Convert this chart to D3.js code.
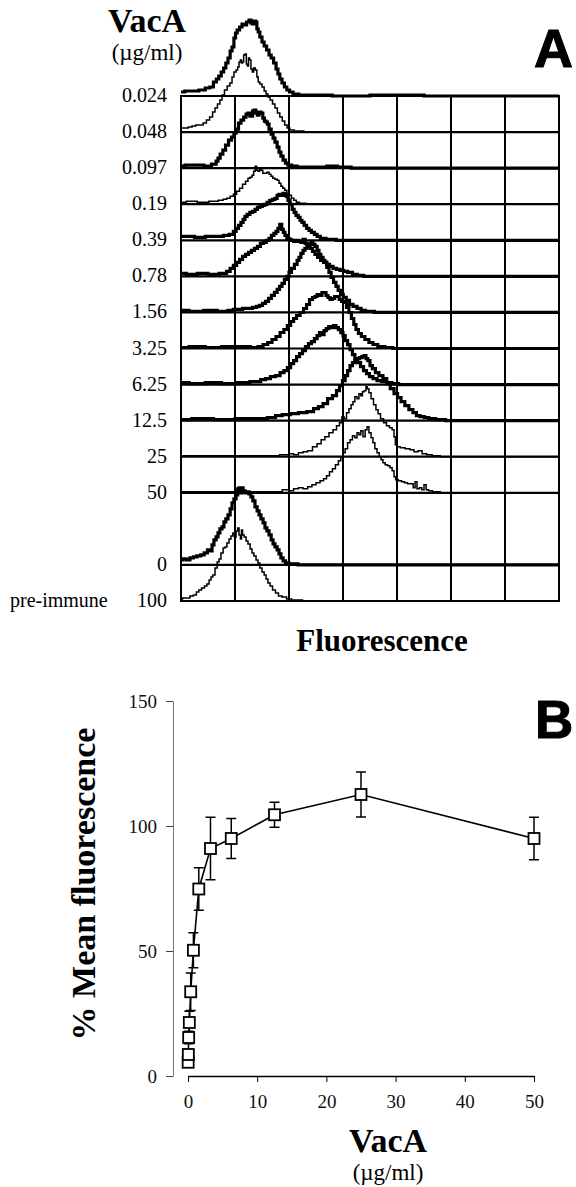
<!DOCTYPE html>
<html>
<head>
<meta charset="utf-8">
<script src="https://cdn.jsdelivr.net/npm/d3@7"></script>
<style>
  body { margin: 0; background: #fff; }
  svg { display: block; }
</style>
</head>
<body>
<div id="chart"></div>
<script>
// panel A: rows of the overlay (label, slot in the grid)
var rowLabels = ["0.024", "0.048", "0.097", "0.19", "0.39", "0.78", "1.56", "3.25", "6.25", "12.5", "25", "50", "0", "100"];
var rowSlots = [0, 1, 2, 3, 4, 5, 6, 7, 8, 9, 10, 11, 13, 14];
var gridChannels = [0, 100, 200, 300, 400, 500, 600, 700];

// histograms: [fluorescence channel, counts]
var h0024 = [[0,4],[14,5],[26,5],[40,6],[50,8],[57,9],[63,14],[68,17],[72,20],[77,24],[81,28],[85,33],[89,38],[93,45],[96,49],[100,58],[102,63],[106,66],[111,69],[115,72],[119,71],[124,74],[128,76],[131,73],[133,72],[137,75],[139,74],[142,67],[144,64],[148,59],[152,54],[156,50],[161,46],[165,41],[169,38],[174,33],[178,27],[181,22],[185,17],[189,13],[194,9],[198,6],[204,4],[211,2],[225,1],[260,1],[300,0],[400,1],[500,0],[700,0]];
var h0048 = [[0,4],[10,4],[17,5],[24,6],[31,7],[38,7],[44,9],[50,12],[56,15],[61,20],[65,24],[70,28],[74,32],[78,37],[83,42],[88,46],[93,49],[96,55],[100,60],[104,62],[106,65],[109,70],[111,72],[113,69],[115,70],[117,77],[120,78],[122,68],[124,66],[126,74],[128,72],[131,63],[133,60],[136,64],[139,62],[142,55],[144,50],[148,48],[152,45],[156,41],[159,38],[163,35],[167,32],[172,28],[176,24],[181,19],[185,15],[190,11],[194,7],[199,4],[204,2],[215,1],[240,0],[700,0]];
var h0097 = [[0,2],[15,3],[35,3],[50,2],[63,4],[67,7],[70,10],[75,14],[80,18],[85,23],[91,28],[96,31],[100,35],[104,39],[109,45],[113,48],[119,51],[122,54],[126,55],[129,52],[131,52],[134,57],[137,58],[140,55],[143,53],[146,56],[150,55],[153,50],[156,47],[159,46],[161,44],[165,39],[169,34],[172,30],[176,26],[180,21],[183,16],[187,12],[191,8],[196,5],[200,3],[210,2],[220,1],[260,1],[280,2],[300,1],[330,0],[700,0]];
var h019 = [[0,2],[20,3],[40,2],[63,3],[75,4],[81,5],[88,6],[94,8],[100,10],[106,13],[111,16],[117,20],[122,23],[126,26],[130,27],[133,29],[136,33],[139,38],[141,34],[144,33],[147,35],[150,34],[153,31],[157,31],[161,32],[165,30],[168,28],[172,26],[176,25],[180,24],[183,21],[187,18],[190,16],[194,14],[198,11],[202,9],[207,6],[211,4],[216,2],[222,1],[240,0],[700,0]];
var h039 = [[0,4],[15,4],[35,3],[55,4],[72,4],[85,5],[94,6],[100,9],[104,12],[109,15],[113,18],[117,21],[120,24],[125,26],[130,28],[135,29],[139,31],[144,33],[148,34],[153,35],[157,36],[162,38],[167,40],[172,41],[176,42],[180,45],[183,46],[187,45],[191,47],[194,45],[196,44],[200,40],[204,36],[208,31],[211,28],[215,25],[219,23],[222,20],[226,18],[230,15],[235,12],[239,10],[244,8],[250,6],[254,4],[262,2],[275,1],[300,0],[700,0]];
var h078 = [[0,3],[20,2],[40,3],[60,2],[81,3],[88,5],[94,8],[100,11],[106,14],[111,17],[117,20],[122,22],[128,24],[133,26],[139,28],[144,30],[150,33],[155,34],[161,36],[165,38],[170,41],[174,43],[178,45],[181,48],[185,52],[188,47],[191,44],[194,41],[198,38],[202,37],[206,36],[211,35],[215,36],[220,35],[224,34],[228,37],[232,33],[237,30],[241,28],[246,25],[250,22],[256,19],[261,16],[267,14],[272,12],[278,10],[285,8],[291,7],[298,6],[304,5],[313,4],[322,2],[331,1],[346,0],[700,0]];
var h156 = [[0,2],[30,1],[54,2],[80,1],[94,2],[100,3],[109,3],[119,4],[128,4],[137,5],[143,6],[148,7],[154,9],[159,11],[165,14],[170,17],[176,20],[180,23],[185,26],[189,29],[194,33],[198,36],[202,40],[207,44],[213,48],[217,52],[220,55],[224,59],[228,62],[231,64],[235,66],[239,68],[243,70],[246,68],[250,66],[254,62],[257,58],[261,55],[265,52],[268,50],[272,45],[276,40],[280,35],[285,30],[289,26],[293,22],[298,18],[303,15],[309,12],[315,8],[322,6],[330,4],[337,2],[346,1],[370,0],[700,0]];
var h325 = [[0,1],[30,2],[60,1],[90,2],[120,2],[137,1],[148,2],[156,4],[165,6],[172,9],[180,12],[187,16],[194,19],[200,23],[206,27],[211,30],[217,33],[224,36],[230,40],[235,44],[241,49],[246,51],[250,52],[254,54],[259,53],[263,56],[267,56],[270,53],[274,51],[278,49],[282,50],[287,52],[291,52],[295,49],[300,47],[304,46],[309,41],[313,36],[318,30],[322,24],[326,19],[331,15],[337,12],[344,9],[352,6],[359,4],[370,2],[385,1],[400,0],[700,0]];
var h625 = [[0,2],[30,1],[60,2],[90,1],[120,2],[135,3],[143,3],[152,5],[161,6],[170,8],[180,9],[187,12],[194,14],[200,17],[206,21],[211,24],[217,28],[222,31],[228,34],[233,38],[239,41],[244,43],[250,46],[254,49],[259,52],[263,50],[267,54],[271,56],[276,58],[280,57],[285,59],[289,57],[294,55],[298,52],[302,49],[306,44],[311,40],[315,35],[320,30],[324,26],[330,22],[335,18],[341,14],[346,11],[352,8],[359,6],[367,4],[376,3],[385,2],[396,1],[410,0],[700,0]];
var h125 = [[0,1],[40,2],[80,1],[120,2],[150,2],[170,3],[180,5],[195,6],[210,7],[225,8],[241,9],[250,12],[259,14],[267,17],[276,22],[285,25],[291,30],[296,35],[302,40],[306,45],[311,50],[315,55],[320,58],[324,60],[328,62],[333,63],[337,64],[341,65],[344,62],[348,60],[352,55],[357,52],[363,48],[370,45],[378,42],[384,37],[391,32],[398,27],[404,23],[411,19],[418,15],[426,11],[433,8],[439,5],[446,4],[455,3],[463,2],[480,1],[500,0],[700,0]];
var h25 = [[0,1],[60,1],[120,1],[170,1],[195,2],[204,3],[213,2],[222,4],[230,5],[239,6],[248,10],[256,13],[263,17],[270,20],[278,24],[285,27],[291,31],[296,34],[300,40],[304,38],[309,44],[313,48],[317,52],[320,55],[324,60],[328,58],[331,63],[335,61],[337,65],[341,66],[344,70],[346,68],[350,64],[354,58],[359,52],[363,47],[367,43],[372,38],[378,34],[383,31],[389,29],[393,27],[396,20],[398,12],[402,10],[410,9],[420,8],[428,7],[435,5],[443,6],[450,3],[460,2],[470,1],[490,0],[700,0]];
var h50 = [[0,1],[60,1],[120,1],[180,1],[195,3],[204,2],[213,4],[222,5],[230,4],[239,6],[246,8],[254,10],[261,12],[267,14],[272,17],[278,21],[283,24],[289,28],[294,32],[298,36],[302,40],[306,44],[311,50],[315,53],[320,57],[324,55],[328,60],[331,58],[335,62],[339,56],[343,63],[346,66],[350,60],[354,55],[357,50],[361,44],[365,40],[369,36],[372,33],[376,30],[380,28],[385,27],[389,25],[393,22],[396,16],[399,13],[406,12],[411,11],[417,10],[422,9],[428,9],[432,5],[435,11],[439,4],[444,5],[448,3],[452,8],[456,3],[461,2],[470,1],[490,0],[700,0]];
var h0 = [[0,5],[6,6],[13,5],[20,7],[26,8],[33,9],[40,10],[46,12],[52,15],[56,14],[59,20],[63,25],[67,28],[70,32],[74,36],[78,38],[81,43],[85,46],[89,50],[93,56],[96,62],[100,66],[104,70],[106,76],[109,77],[111,72],[113,77],[117,74],[120,72],[124,73],[128,71],[131,68],[135,64],[139,58],[143,54],[146,50],[150,46],[154,42],[157,37],[161,34],[165,30],[169,25],[172,21],[176,18],[180,15],[183,11],[187,7],[191,4],[196,2],[204,1],[230,0],[700,0]];
var h100 = [[0,2],[6,3],[13,3],[20,5],[26,6],[31,9],[35,11],[41,13],[46,15],[50,17],[54,21],[57,24],[61,26],[65,33],[69,39],[72,42],[76,48],[80,53],[83,54],[87,58],[91,62],[94,65],[98,68],[100,64],[104,70],[106,73],[109,66],[111,62],[113,71],[115,66],[119,64],[122,60],[126,57],[130,52],[133,48],[137,45],[141,41],[144,38],[148,33],[152,29],[156,26],[159,22],[163,18],[167,15],[172,11],[178,8],[183,5],[191,4],[200,2],[210,1],[240,0],[700,0]];
var histograms = [h0024, h0048, h0097, h019, h039, h078, h156, h325, h625, h125, h25, h50, h0, h100];

// panel B: dose response
var vacA = [0.024, 0.048, 0.097, 0.19, 0.39, 0.78, 1.56, 3.25, 6.25, 12.5, 25, 50];
var meanFluor = [5.5, 8.6, 15.4, 21.4, 33.7, 50.3, 74.8, 91, 95, 104.5, 112.6, 95];
var errFluor = [2, 2, 2.5, 4.5, 7.5, 7, 8.5, 12.5, 8, 5, 9, 8.5];
var yTicksB = [0, 50, 100, 150];
var xTicksB = [0, 10, 20, 30, 40, 50];

// style: which overlay traces are the heavy ones
var heavyTraces = ["0.024", "0.097", "0.39", "0.78", "1.56", "3.25", "6.25", "12.5", "0"];

var W = 576, H = 1187;
var serif = "'Liberation Serif', 'Times New Roman', serif";
var sans = "'Liberation Sans', Arial, sans-serif";

var svg = d3.select("#chart").append("svg")
    .attr("width", W)
    .attr("height", H);
svg.append("rect").attr("width", W).attr("height", H).attr("fill", "#fff");

// ---------- panel A ----------
var xA = d3.scaleLinear().domain([0, 700]).range([181, 559]);
var rowY = d3.scaleLinear().domain([0, 14]).range([96, 601]);
var countPx = d3.scaleLinear().domain([0, 100]).range([0, 100]);

var gA = svg.append("g");

gA.selectAll(".vgrid")
    .data(gridChannels)
  .enter().append("line")
    .attr("x1", function(d) { return xA(d); })
    .attr("x2", function(d) { return xA(d); })
    .attr("y1", rowY(0) - 1)
    .attr("y2", rowY(14) + 1)
    .attr("stroke", "#000")
    .attr("stroke-width", 2);

gA.selectAll(".hgrid")
    .data(rowSlots)
  .enter().append("line")
    .attr("x1", xA(0))
    .attr("x2", xA(700))
    .attr("y1", function(d) { return rowY(d); })
    .attr("y2", function(d) { return rowY(d); })
    .attr("stroke", "#000")
    .attr("stroke-width", 2.2);

histograms.forEach(function(hist, i) {
  var base = rowY(rowSlots[i]);
  var heavy = heavyTraces.indexOf(rowLabels[i]) >= 0;
  var line = d3.line()
      .curve(d3.curveStep)
      .x(function(d) { return xA(d[0]); })
      .y(function(d) { return base - countPx(d[1]); });
  gA.append("path")
      .datum(hist)
      .attr("d", line)
      .attr("fill", "none")
      .attr("stroke", "#000")
      .attr("stroke-width", heavy ? 3.2 : 1.5)
      .attr("stroke-linejoin", "miter");
});

gA.selectAll(".rowlab")
    .data(rowLabels)
  .enter().append("text")
    .attr("x", 167)
    .attr("y", function(d, i) { return rowY(rowSlots[i]) + 6; })
    .attr("text-anchor", "end")
    .attr("font-family", serif)
    .attr("font-size", 20)
    .text(function(d) { return d; });

gA.append("text")
    .attr("x", 10).attr("y", rowY(14) + 6)
    .attr("font-family", serif).attr("font-size", 20)
    .text("pre-immune");

gA.append("text")
    .attr("x", 147).attr("y", 32)
    .attr("text-anchor", "middle")
    .attr("font-family", serif).attr("font-weight", "bold").attr("font-size", 34)
    .text("VacA");
gA.append("text")
    .attr("x", 147).attr("y", 60)
    .attr("text-anchor", "middle")
    .attr("font-family", serif).attr("font-size", 23)
    .text("(µg/ml)");

gA.append("text")
    .attr("x", 382).attr("y", 651)
    .attr("text-anchor", "middle")
    .attr("font-family", serif).attr("font-weight", "bold").attr("font-size", 31)
    .text("Fluorescence");

gA.append("text")
    .attr("x", 534).attr("y", 67)
    .attr("font-family", sans).attr("font-weight", "bold").attr("font-size", 54)
    .attr("stroke", "#000").attr("stroke-width", 1)
    .text("A");

// ---------- panel B ----------
var xB = d3.scaleLinear().domain([0, 50]).range([188, 534]);
var yB = d3.scaleLinear().domain([0, 150]).range([1076, 701]);

var gB = svg.append("g");

var yAxis = gB.append("g")
    .attr("transform", "translate(173,0)")
    .call(d3.axisLeft(yB).tickValues(yTicksB).tickSize(7).tickSizeOuter(0).tickPadding(9));
yAxis.select(".domain").attr("stroke", "#777").attr("stroke-width", 1);
yAxis.selectAll(".tick line").attr("stroke", "#444");
yAxis.selectAll("text")
    .attr("font-family", serif).attr("font-size", 19).attr("fill", "#111");

var xAxis = gB.append("g")
    .attr("transform", "translate(0,1076)")
    .call(d3.axisBottom(xB).tickValues(xTicksB).tickSize(6).tickSizeOuter(0).tickPadding(13));
xAxis.select(".domain").attr("stroke", "#000").attr("stroke-width", 1.3);
xAxis.selectAll(".tick line").attr("stroke", "#000");
xAxis.selectAll("text")
    .attr("font-family", serif).attr("font-size", 19).attr("fill", "#111");

var pts = vacA.map(function(v, i) { return { x: v, y: meanFluor[i], e: errFluor[i] }; });

// error bars
var eb = gB.selectAll(".err")
    .data(pts)
  .enter().append("g")
    .attr("stroke", "#000")
    .attr("stroke-width", 1.5);
eb.append("line")
    .attr("x1", function(d) { return xB(d.x); })
    .attr("x2", function(d) { return xB(d.x); })
    .attr("y1", function(d) { return yB(d.y + d.e); })
    .attr("y2", function(d) { return yB(d.y - d.e); });
eb.append("line")
    .attr("x1", function(d) { return xB(d.x) - 5; })
    .attr("x2", function(d) { return xB(d.x) + 5; })
    .attr("y1", function(d) { return yB(d.y + d.e); })
    .attr("y2", function(d) { return yB(d.y + d.e); });
eb.append("line")
    .attr("x1", function(d) { return xB(d.x) - 5; })
    .attr("x2", function(d) { return xB(d.x) + 5; })
    .attr("y1", function(d) { return yB(d.y - d.e); })
    .attr("y2", function(d) { return yB(d.y - d.e); });

gB.append("path")
    .datum(pts)
    .attr("d", d3.line().x(function(d) { return xB(d.x); }).y(function(d) { return yB(d.y); }))
    .attr("fill", "none")
    .attr("stroke", "#000")
    .attr("stroke-width", 1.6);

var sq = 11;
gB.selectAll(".pt")
    .data(pts)
  .enter().append("rect")
    .attr("x", function(d) { return xB(d.x) - sq / 2; })
    .attr("y", function(d) { return yB(d.y) - sq / 2; })
    .attr("width", sq)
    .attr("height", sq)
    .attr("fill", "#fff")
    .attr("stroke", "#000")
    .attr("stroke-width", 1.8);

gB.append("text")
    .attr("transform", "translate(95,884) rotate(-90)")
    .attr("text-anchor", "middle")
    .attr("font-family", serif).attr("font-weight", "bold").attr("font-size", 34)
    .text("% Mean fluorescence");

gB.append("text")
    .attr("x", 388).attr("y", 1152)
    .attr("text-anchor", "middle")
    .attr("font-family", serif).attr("font-weight", "bold").attr("font-size", 34)
    .text("VacA");
gB.append("text")
    .attr("x", 388).attr("y", 1180)
    .attr("text-anchor", "middle")
    .attr("font-family", serif).attr("font-size", 23)
    .text("(µg/ml)");

gB.append("text")
    .attr("x", 535).attr("y", 738)
    .attr("font-family", sans).attr("font-weight", "bold").attr("font-size", 53)
    .attr("stroke", "#000").attr("stroke-width", 1)
    .text("B");
</script>
</body>
</html>
